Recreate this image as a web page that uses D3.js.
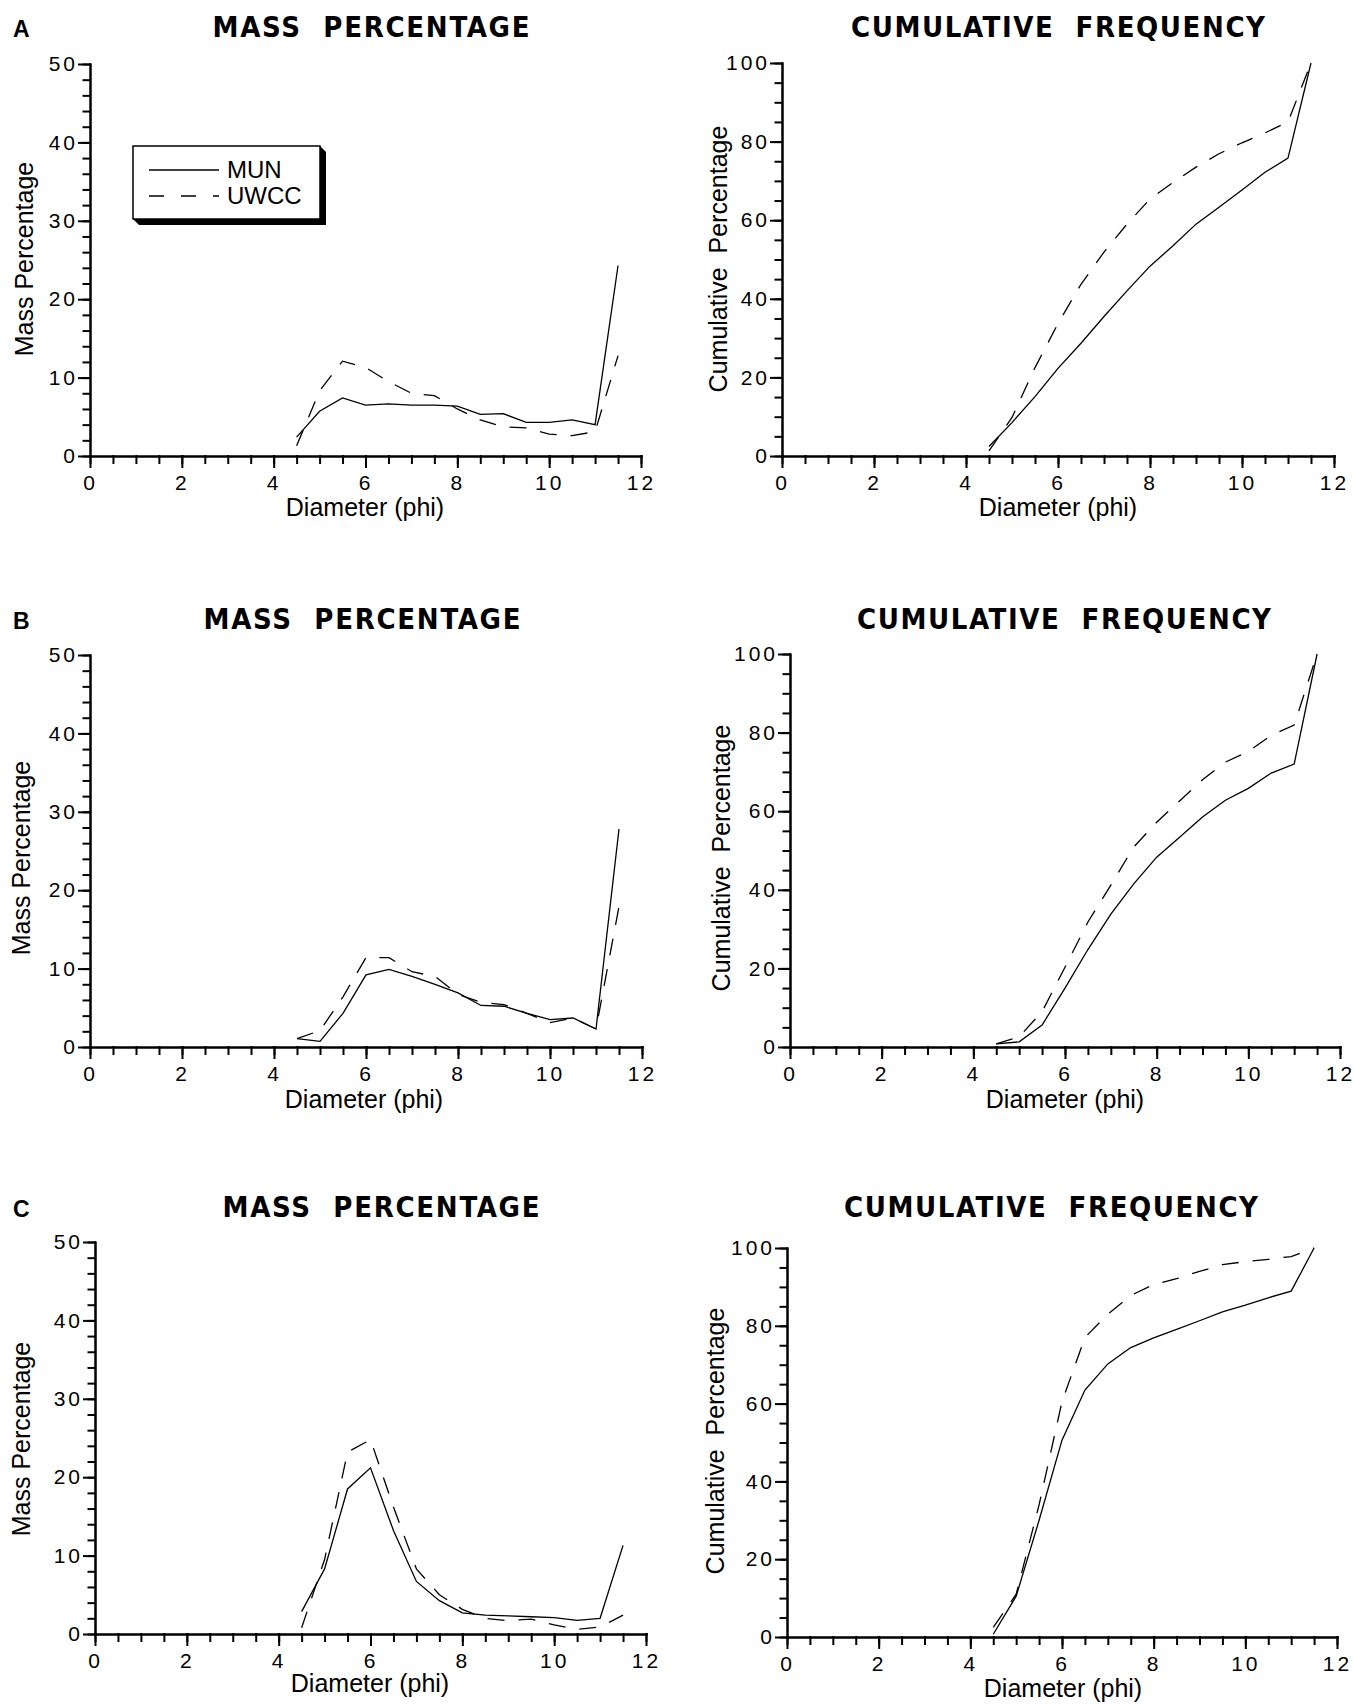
<!DOCTYPE html>
<html>
<head>
<meta charset="utf-8">
<script src="https://cdnjs.cloudflare.com/ajax/libs/d3/7.8.5/d3.min.js"></script>
<style>
  body { margin: 0; background: white; }
  svg text { font-family: 'Liberation Sans', Arial, Helvetica, sans-serif; fill: black; }
  svg text.title { font-family: 'Liberation Sans Narrow', 'Arial Narrow', 'DejaVu Sans Condensed', sans-serif; }
</style>
</head>
<body>
<svg id="chart" width="1354" height="1704"></svg>
<script>
/* DATA */

// Grain size classes (phi) shared by every panel
const phi = [4.5, 5, 5.5, 6, 6.5, 7, 7.5, 8, 8.5, 9, 9.5, 10, 10.5, 11, 11.5]

const phiTicks = [0, 2, 4, 6, 8, 10, 12]
const massTicks = [0, 10, 20, 30, 40, 50]
const cumTicks = [0, 20, 40, 60, 80, 100]
const seriesNames = ['MUN', 'UWCC']

// Sample A
const massMunA = [2.4, 5.7, 7.4, 6.5, 6.65, 6.5, 6.5, 6.35, 5.3, 5.4, 4.3, 4.3, 4.6, 4.0, 24.3]
const massUwccA = [1.3, 8.3, 12.1, 11.3, 9.5, 8.0, 7.7, 6.0, 4.6, 3.7, 3.6, 2.8, 2.6, 3.1, 12.8]
const cumMunA = [2.4, 8.5, 15.1, 22.3, 28.7, 35.5, 42, 48.3, 53.5, 59, 63.3, 67.7, 72.2, 75.8, 100]
const cumUwccA = [1.3, 9.8, 22.5, 33.7, 43.7, 51.9, 59, 65.4, 69.6, 73.5, 76.9, 79.7, 82.2, 85, 100]

// Sample B
const massMunB = [1.06, 0.72, 4.3, 9.2, 9.9, 9.0, 8.0, 6.9, 5.3, 5.2, 4.3, 3.5, 3.7, 2.3, 27.8]
const massUwccB = [1.06, 2.1, 6.4, 11.4, 11.4, 9.6, 9.0, 6.7, 5.7, 5.4, 4.3, 3.1, 3.7, 2.3, 17.9]
const cumMunB = [0.8, 1.3, 5.6, 15, 24.8, 33.8, 41.5, 48.3, 53.4, 58.5, 62.8, 65.8, 69.7, 72, 100]
const cumUwccB = [0.8, 2.6, 9.0, 20.3, 31.8, 41.2, 50.9, 57.2, 62.6, 68, 72.5, 75.2, 79.3, 81.9, 100]

// Sample C
const massMunC = [2.85, 8.3, 18.5, 21.2, 13.2, 6.7, 4.25, 2.7, 2.4, 2.3, 2.2, 2.1, 1.75, 2.0, 11.3]
const massUwccC = [0.8, 9.5, 23.2, 24.8, 16.2, 8.3, 5.0, 3.15, 2.0, 1.7, 1.9, 1.15, 0.6, 0.9, 2.4]
const cumMunC = [0.7, 10.5, 30, 50.6, 63.5, 70.2, 74.4, 76.9, 79.1, 81.3, 83.6, 85.3, 87.2, 88.9, 100]
const cumUwccC = [2.5, 11, 34, 60.5, 77, 83, 87.8, 90.6, 92.1, 94, 95.7, 96.5, 97.1, 97.8, 100]

/* LAYOUT */

const panels = [
  { letter: 'A', kind: 'mass', mun: massMunA, uwcc: massUwccA, left: 90, right: 641, top: 64, bottom: 456, titleX: 371, titleY: 37, yLabX: 33, yLabY: 259, xLabX: 365, xLabY: 516, legend: true },
  { kind: 'cum', mun: cumMunA, uwcc: cumUwccA, left: 782, right: 1334, top: 63, bottom: 456, titleX: 1058, titleY: 37, yLabX: 727, yLabY: 259, xLabX: 1058, xLabY: 516 },
  { letter: 'B', kind: 'mass', mun: massMunB, uwcc: massUwccB, left: 90, right: 642, top: 655, bottom: 1047, titleX: 362, titleY: 629, yLabX: 30, yLabY: 858, xLabX: 364, xLabY: 1108 },
  { kind: 'cum', mun: cumMunB, uwcc: cumUwccB, left: 790, right: 1340, top: 654, bottom: 1047, titleX: 1064, titleY: 629, yLabX: 730, yLabY: 858, xLabX: 1065, xLabY: 1108 },
  { letter: 'C', kind: 'mass', mun: massMunC, uwcc: massUwccC, left: 95, right: 646, top: 1242, bottom: 1634, titleX: 381, titleY: 1217, yLabX: 30, yLabY: 1439, xLabX: 370, xLabY: 1692 },
  { kind: 'cum', mun: cumMunC, uwcc: cumUwccC, left: 787, right: 1337, top: 1248, bottom: 1637, titleX: 1051, titleY: 1217, yLabX: 724, yLabY: 1441, xLabX: 1063, xLabY: 1697 }
]

const dashed = '17,14'
const svg = d3.select('#chart')

/* FUNCTIONS */

function styleAxis (sel) {
  sel.attr('font-family', null)
     .attr('font-size', null)
  sel.selectAll('path, line')
     .attr('stroke', 'black')
     .attr('stroke-width', 2)
     .attr('stroke-linecap', 'square')
  sel.selectAll('text')
     .attr('font-size', 21)
     .attr('letter-spacing', 3)
}

function drawPanel (p) {
  const g = svg.append('g')
  const isMass = p.kind === 'mass'
  const x = d3.scaleLinear().domain([0, 12]).range([p.left, p.right])
  const y = d3.scaleLinear().domain([0, isMass ? 50 : 100]).range([p.bottom, p.top])

  // Minor ticks (every 0.5 phi, every 2 % / 5 %)
  g.append('g')
      .attr('transform', `translate(0,${p.bottom})`)
      .call(d3.axisBottom(x).ticks(24).tickSize(7).tickSizeOuter(0).tickFormat(''))
      .call(styleAxis)

  g.append('g')
      .attr('transform', `translate(${p.left},0)`)
      .call(d3.axisLeft(y).ticks(isMass ? 25 : 20).tickSize(6.5).tickSizeOuter(0).tickFormat(''))
      .call(styleAxis)

  // Major ticks with labels
  g.append('g')
      .attr('transform', `translate(0,${p.bottom})`)
      .call(d3.axisBottom(x).tickValues(phiTicks).tickSize(11).tickPadding(8).tickSizeOuter(0))
      .call(styleAxis)

  g.append('g')
      .attr('transform', `translate(${p.left},0)`)
      .call(d3.axisLeft(y).tickValues(isMass ? massTicks : cumTicks).tickSize(11).tickPadding(1).tickSizeOuter(0))
      .call(styleAxis)

  // Data lines
  const line = d3.line()
      .x((d, i) => x(phi[i]))
      .y(d => y(d))

  g.append('path')
      .datum(p.mun)
      .attr('d', line)
      .attr('fill', 'none')
      .attr('stroke', 'black')
      .attr('stroke-width', 1.3)

  g.append('path')
      .datum(p.uwcc)
      .attr('d', line)
      .attr('fill', 'none')
      .attr('stroke', 'black')
      .attr('stroke-width', 1.3)
      .attr('stroke-dasharray', dashed)

  // Titles
  g.append('text')
      .attr('class', 'title')
      .attr('x', p.titleX)
      .attr('y', p.titleY)
      .attr('text-anchor', 'middle')
      .attr('font-size', 29)
      .attr('font-weight', 'bold')
      .attr('textLength', isMass ? 317 : 414)
      .attr('lengthAdjust', 'spacing')
      .style('white-space', 'pre')
      .text(isMass ? 'MASS  PERCENTAGE' : 'CUMULATIVE  FREQUENCY')

  if (p.letter) {
    g.append('text')
        .attr('x', 13)
        .attr('y', p.titleY)
        .attr('font-size', 23)
        .attr('font-weight', 'bold')
        .text(p.letter)
  }

  g.append('text')
      .attr('x', p.xLabX)
      .attr('y', p.xLabY)
      .attr('text-anchor', 'middle')
      .attr('font-size', 25)
      .text('Diameter (phi)')

  g.append('text')
      .attr('transform', `translate(${p.yLabX},${p.yLabY}) rotate(-90)`)
      .attr('text-anchor', 'middle')
      .attr('font-size', 25)
      .style('white-space', 'pre')
      .text(isMass ? 'Mass Percentage' : 'Cumulative  Percentage')

  if (p.legend) drawLegend(g)
}

function drawLegend (g) {
  const bx = 133
  const by = 146
  const bw = 187
  const bh = 73
  const off = 6

  // Drop shadow
  g.append('polygon')
      .attr('points', [
        [bx + bw, by], [bx + bw + off, by + off], [bx + bw + off, by + bh + off],
        [bx + off, by + bh + off], [bx, by + bh]
      ].map(d => d.join(',')).join(' '))
      .attr('fill', 'black')

  g.append('rect')
      .attr('x', bx)
      .attr('y', by)
      .attr('width', bw)
      .attr('height', bh)
      .attr('fill', 'white')
      .attr('stroke', 'black')
      .attr('stroke-width', 1.5)

  seriesNames.forEach((name, i) => {
    const ly = by + 24 + i * 26
    g.append('line')
        .attr('x1', bx + 16)
        .attr('x2', bx + 86)
        .attr('y1', ly)
        .attr('y2', ly)
        .attr('stroke', 'black')
        .attr('stroke-width', 1.3)
        .attr('stroke-dasharray', i === 1 ? '15,17' : null)

    g.append('text')
        .attr('x', bx + 94)
        .attr('y', ly + 8)
        .attr('font-size', 24)
        .text(name)
  })
}

/* DRAW */

panels.forEach(drawPanel)
</script>
</body>
</html>
